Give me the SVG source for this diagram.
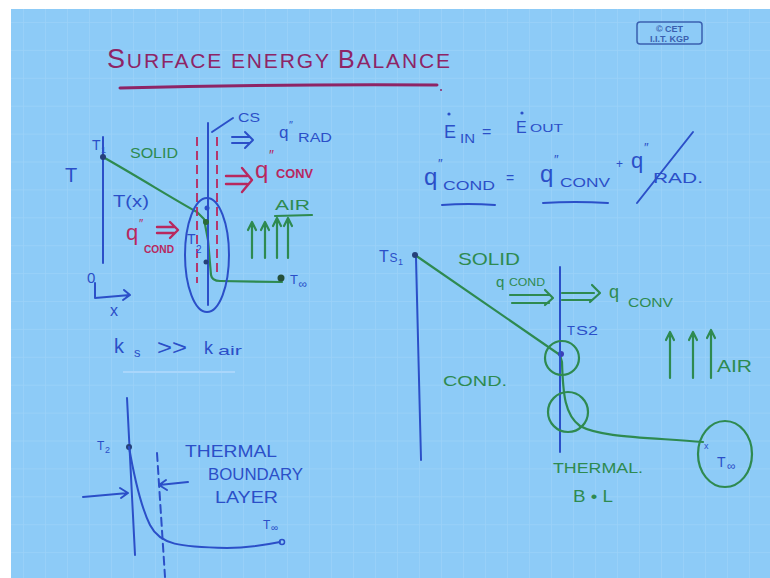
<svg xmlns="http://www.w3.org/2000/svg" width="770" height="578" viewBox="0 0 770 578">
<defs>
<pattern id="grid" x="1" y="22" width="22" height="27.9" patternUnits="userSpaceOnUse">
<path d="M0,0 V27.9 M0,0 H22" fill="none" stroke="#ffffff" stroke-opacity="0.13" stroke-width="1.5"/>
</pattern>
<style>
.b{stroke:#2b4fc8;fill:none;stroke-width:2;stroke-linecap:round;stroke-linejoin:round}
.g{stroke:#2e8a50;fill:none;stroke-width:2.2;stroke-linecap:round;stroke-linejoin:round}
.r{stroke:#b8285e;fill:none;stroke-width:2.4;stroke-linecap:round;stroke-linejoin:round}
.rd{stroke:#b8285e;fill:none;stroke-width:1.8;stroke-dasharray:9 5}
text{font-family:"Liberation Sans","DejaVu Sans",sans-serif}
.tb{fill:#2b4fc8}
.tg{fill:#2e8a50}
.tr{fill:#b8285e}
.tt{fill:#8e2466}
</style>
</defs>
<rect width="770" height="578" fill="#ffffff"/>
<rect x="11" y="9" width="759" height="569" fill="#8dcbf7"/>
<rect x="11" y="9" width="759" height="569" fill="url(#grid)"/>

<g id="copyright">
<rect x="637" y="22" width="65" height="22" rx="3" fill="none" stroke="#3a60b0" stroke-width="1.5"/>
<text x="669.5" y="32" font-size="9" font-weight="bold" fill="#3a60b0" text-anchor="middle">© CET</text>
<text x="669.5" y="42" font-size="9" font-weight="bold" fill="#3a60b0" text-anchor="middle">I.I.T. KGP</text>
</g>

<g id="title">
<text x="107" y="68" font-size="21" class="tt" textLength="343" lengthAdjust="spacing"><tspan font-size="27">S</tspan>URFACE ENERGY <tspan font-size="25">B</tspan>ALANCE</text>
<path d="M120,88 Q280,84 437,85" fill="none" stroke="#8e2466" stroke-width="3" stroke-linecap="round"/>
<circle cx="441" cy="90" r="1" fill="#8e2466"/>
</g>

<g id="left-diagram">
<text x="65" y="182" font-size="20" class="tb">T</text>
<text x="92" y="150" font-size="14" class="tb">T<tspan x="101" y="153" font-size="9">1</tspan></text>
<path class="b" d="M103,137 L103,263"/>
<path class="g" stroke-width="2.5" d="M103,157 C140,178 175,200 197,212 L204,219 L208,240 L211,275 Q212,281 220,281 L282,282"/>
<circle cx="103" cy="157" r="3" fill="#25407a"/>
<text x="130" y="158" font-size="15" class="tg" textLength="48" lengthAdjust="spacingAndGlyphs">SOLID</text>
<text x="113" y="207" font-size="17" class="tb" textLength="36" lengthAdjust="spacingAndGlyphs">T(x)</text>
<text x="126" y="240" font-size="22" class="tr">q<tspan x="139" y="228" font-size="12">″</tspan><tspan x="144" y="253" font-size="10" font-weight="bold" textLength="30" lengthAdjust="spacingAndGlyphs">COND</tspan></text>
<path class="r" d="M157,227 H174 M157,233 H174 M170,222 L178,230 L170,238"/>
<path class="rd" d="M197,137 V283"/>
<path class="rd" d="M217,137 V277"/>
<path class="b" d="M208,123 V305"/>
<ellipse class="b" cx="207" cy="255" rx="22" ry="57"/>
<circle cx="207" cy="208" r="2.5" fill="#2b4fc8"/>
<circle cx="206" cy="222" r="3" fill="#2a6a38"/>
<circle cx="206" cy="262" r="2.5" fill="#25407a"/>
<text x="187" y="244" font-size="14" class="tb">T<tspan x="196" y="253" font-size="10">2</tspan></text>
<text x="238" y="122" font-size="13" class="tb" textLength="22" lengthAdjust="spacingAndGlyphs">CS</text>
<path class="b" stroke-width="1.5" d="M233,118 L212,132"/>
<path class="b" d="M232,137 H249 M232,143 H249 M245,132 L253,140 L245,148"/>
<text x="279" y="138" font-size="17" class="tb">q<tspan x="289" y="129" font-size="11">″</tspan><tspan x="298" y="142" font-size="12" textLength="34" lengthAdjust="spacingAndGlyphs">RAD</tspan></text>
<path class="r" stroke-width="3" d="M226,176 H247 M226,184 H247 M242,168 L252,180 L242,192"/>
<text x="255" y="178" font-size="24" class="tr">q<tspan x="269" y="160" font-size="14">″</tspan><tspan x="276" y="178" font-size="12" font-weight="bold" textLength="37" lengthAdjust="spacingAndGlyphs">CONV</tspan></text>
<text x="275" y="210" font-size="15" class="tg" textLength="35" lengthAdjust="spacingAndGlyphs">AIR</text>
<path class="g" d="M275,216 L312,215"/>
<path class="g" d="M252,258 V222 M248,230 L252,222 L256,230 M265,258 V222 M261,230 L265,222 L269,230 M277,258 V218 M273,226 L277,218 L281,226 M288,258 V218 M284,226 L288,218 L292,226"/>
<circle cx="281" cy="278" r="3.5" fill="#25503a"/>
<text x="290" y="284" font-size="13" class="tb">T<tspan x="298.5" y="288" font-size="12">∞</tspan></text>
<text x="87" y="283" font-size="15" class="tb">0</text>
<path class="b" d="M95,283 L95,298 L130,295 M124,290 L130,295 L123,300"/>
<text x="110" y="316" font-size="16" class="tb">x</text>
</g>

<g id="conductivity">
<text x="114" y="353" font-size="20" class="tb">k<tspan x="134" y="357" font-size="13">s</tspan><tspan x="157" y="355" font-size="22" textLength="30" lengthAdjust="spacingAndGlyphs">&gt;&gt;</tspan><tspan x="204" y="354" font-size="18">k</tspan><tspan x="218" y="355" font-size="13" textLength="24" lengthAdjust="spacingAndGlyphs">air</tspan></text>
<path d="M123,372 H235" stroke="#a9d6fb" stroke-width="2" fill="none"/>
</g>

<g id="boundary-layer">
<path class="b" d="M127,398 L135,555"/>
<circle cx="129" cy="447" r="3" fill="#25407a"/>
<text x="97" y="450" font-size="12" class="tb">T<tspan x="105" y="453" font-size="9">2</tspan></text>
<path class="b" d="M129,447 C133,470 140,505 150,525 C160,545 180,547 227,548 C250,548 265,545 280,542"/>
<circle cx="282" cy="542" r="2.5" fill="none" stroke="#2b4fc8" stroke-width="1.5"/>
<path class="b" stroke-width="1.4" stroke-dasharray="8 5" d="M157,453 L165,577"/>
<path class="b" d="M83,497 L128,493 M120,488 L128,493 L121,498"/>
<path class="b" d="M188,482 L159,485 M166,480 L159,485 L167,490"/>
<text x="185" y="457" font-size="17" class="tb" textLength="92" lengthAdjust="spacingAndGlyphs">THERMAL</text>
<text x="208" y="480" font-size="17" class="tb" textLength="95" lengthAdjust="spacingAndGlyphs">BOUNDARY</text>
<text x="215" y="503" font-size="17" class="tb" textLength="63" lengthAdjust="spacingAndGlyphs">LAYER</text>
<text x="263" y="529" font-size="12" class="tb">T<tspan x="271" y="531" font-size="10">∞</tspan></text>
</g>

<g id="equations">
<text x="444" y="138" font-size="18" class="tb">E<tspan x="460" y="143" font-size="12" textLength="15" lengthAdjust="spacingAndGlyphs">IN</tspan></text>
<circle cx="449" cy="114" r="1.6" fill="#2b4fc8"/>
<text x="482" y="137" font-size="16" class="tb">=</text>
<text x="516" y="133" font-size="16" class="tb">E<tspan x="530" y="132" font-size="11" textLength="33" lengthAdjust="spacingAndGlyphs">OUT</tspan></text>
<circle cx="522" cy="113" r="1.6" fill="#2b4fc8"/>
<text x="424" y="185" font-size="24" class="tb">q<tspan x="438" y="168" font-size="13">″</tspan><tspan x="443" y="190" font-size="13" textLength="52" lengthAdjust="spacingAndGlyphs">COND</tspan></text>
<text x="506" y="183" font-size="14" class="tb">=</text>
<text x="540" y="182" font-size="24" class="tb">q<tspan x="554" y="164" font-size="13">″</tspan><tspan x="560" y="187" font-size="13" textLength="50" lengthAdjust="spacingAndGlyphs">CONV</tspan></text>
<text x="616" y="168" font-size="12" class="tb">+</text>
<text x="631" y="168" font-size="22" class="tb">q<tspan x="644" y="152" font-size="13">″</tspan><tspan x="653" y="183" font-size="14" textLength="50" lengthAdjust="spacingAndGlyphs">RAD.</tspan></text>
<path class="b" d="M693,132 L637,203"/>
<path class="b" d="M442,205 Q468,203 495,205"/>
<path class="b" d="M543,203 Q575,201 608,203"/>
</g>

<g id="right-diagram">
<text x="379" y="262" font-size="16" class="tb">T<tspan x="389.5" y="262" font-size="12">S</tspan><tspan x="398" y="265" font-size="9">1</tspan></text>
<path class="b" d="M421,460 L416,258"/>
<path class="g" stroke-width="2.5" d="M415,255 L560,355 L562,362 C563,395 565,415 580,426 C600,437 640,437 703,442"/>
<circle cx="415" cy="255" r="3" fill="#25407a"/>
<circle cx="561" cy="354" r="3" fill="#3b3fb8"/>
<path class="b" d="M560,267 V452"/>
<text x="458" y="265" font-size="17" class="tg" textLength="62" lengthAdjust="spacingAndGlyphs">SOLID</text>
<text x="496" y="287" font-size="15" class="tg">q<tspan x="509" y="286" font-size="11" textLength="36" lengthAdjust="spacingAndGlyphs">COND</tspan></text>
<path class="g" stroke-width="1.8" d="M510,295 H549 M512,303 H549 M545,290 L553,298 L545,305"/>
<path class="g" stroke-width="1.8" d="M562,293 H594 M562,300 H592 M592,285 L600,293 L590,302"/>
<text x="609" y="298" font-size="18" class="tg">q<tspan x="628" y="307" font-size="12" textLength="45" lengthAdjust="spacingAndGlyphs">CONV</tspan></text>
<text x="567" y="335" font-size="13" class="tb">T<tspan x="576" y="335" font-size="12" textLength="22" lengthAdjust="spacingAndGlyphs">S2</tspan></text>
<circle class="g" stroke-width="1.8" cx="562" cy="358" r="17"/>
<circle class="g" stroke-width="1.8" cx="568" cy="412" r="20"/>
<text x="443" y="386" font-size="15" class="tg" textLength="64" lengthAdjust="spacingAndGlyphs">COND.</text>
<path class="g" d="M670,378 V332 M666,340 L670,332 L674,340 M693,378 V332 M689,340 L693,332 L697,340 M711,378 V330 M707,338 L711,330 L715,338"/>
<text x="717" y="372" font-size="16" class="tg" textLength="35" lengthAdjust="spacingAndGlyphs">AIR</text>
<text x="553" y="473" font-size="15" class="tg" textLength="90" lengthAdjust="spacingAndGlyphs">THERMAL.</text>
<text x="573" y="502" font-size="17" class="tg" textLength="40" lengthAdjust="spacingAndGlyphs">B • L</text>
<ellipse class="g" stroke-width="1.8" cx="725" cy="454" rx="27" ry="33"/>
<text x="704" y="449" font-size="9" class="tb">x</text>
<text x="717" y="467" font-size="14" class="tb">T<tspan x="727" y="470" font-size="12">∞</tspan></text>
</g>
</svg>
